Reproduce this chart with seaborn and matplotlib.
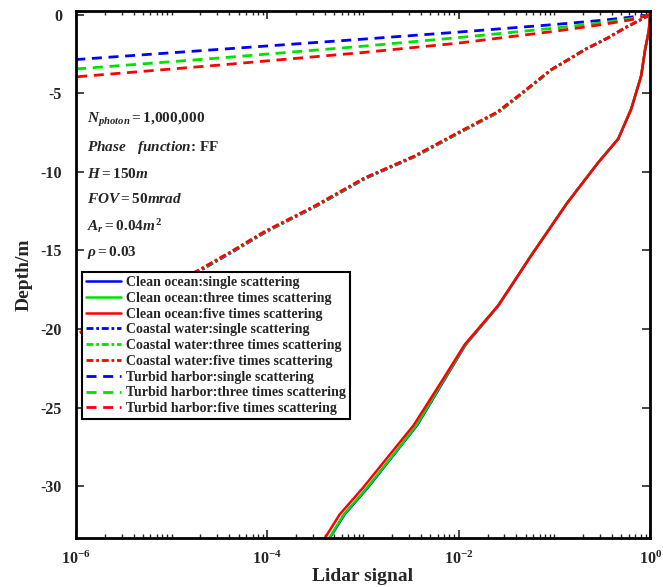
import numpy as np
import pandas as pd
import matplotlib
import matplotlib.pyplot as plt
import matplotlib.ticker as mticker
import seaborn as sns

# depth (m) and lidar signal
clean_depth = [0, -1.0, -2.2, -3.9, -6.0, -7.9, -9.4, -12.0, -15.3, -18.5, -21.0, -23.1, -26.1, -28.0, -30.1, -31.8, -33.3]
clean_single = [1.0, 0.97, 0.887, 0.805, 0.634, 0.464, 0.287, 0.135, 0.0575, 0.0261, 0.0118, 7.3e-3, 3.7e-3, 2.1e-3, 1.12e-3, 6.4e-4, 4.5e-4]
clean_three = [1.0, 0.97, 0.887, 0.805, 0.634, 0.464, 0.287, 0.135, 0.0572, 0.0260, 0.0117, 7.2e-3, 3.65e-3, 2.08e-3, 1.1e-3, 6.3e-4, 4.45e-4]
clean_five = [1.0, 0.97, 0.887, 0.805, 0.634, 0.464, 0.287, 0.135, 0.0575, 0.0258, 0.0115, 7.0e-3, 3.4e-3, 1.9e-3, 1.0e-3, 5.7e-4, 4.0e-4]

coastal_depth = [0, -0.3, -0.82, -1.46, -2.2, -2.85, -3.5, -5.2, -6.2, -7.3, -9.0, -10.4, -12.2, -13.8, -15.1, -16.3, -18.4, -20.5]
coastal_single = [1.0, 0.805, 0.55, 0.365, 0.21, 0.14, 0.093, 0.042, 0.026, 0.0118, 3.56e-3, 1.07e-3, 3.2e-4, 9.8e-5, 4.3e-5, 1.96e-5, 4.6e-6, 9e-7]
coastal_three = [1.0, 0.805, 0.55, 0.365, 0.21, 0.14, 0.093, 0.042, 0.026, 0.0117, 3.5e-3, 1.05e-3, 3.15e-4, 9.6e-5, 4.2e-5, 1.9e-5, 4.5e-6, 9e-7]
coastal_five = [1.0, 0.805, 0.55, 0.365, 0.21, 0.14, 0.092, 0.041, 0.025, 0.0113, 3.4e-3, 1.02e-3, 3.05e-4, 9.3e-5, 4.1e-5, 1.85e-5, 4.4e-6, 9e-7]

turbid_depth_single = [0, -0.15, -0.35, -0.62, -1.1, -1.55, -2.2, -2.85]
turbid_depth_three = [0, -0.25, -0.5, -0.85, -1.45, -2.0, -2.75, -3.45]
turbid_depth_five = [0, -0.32, -0.62, -1.05, -1.8, -2.4, -3.2, -3.95]
turbid_signal = [1.0, 0.63, 0.316, 0.1, 0.01, 1e-3, 3.16e-5, 1e-6]

labels = ['Clean ocean:single scattering', 'Clean ocean:three times scattering',
          'Clean ocean:five times scattering', 'Coastal water:single scattering',
          'Coastal water:three times scattering', 'Coastal water:five times scattering',
          'Turbid harbor:single scattering', 'Turbid harbor:three times scattering',
          'Turbid harbor:five times scattering']

series = [
    (clean_single, clean_depth), (clean_three, clean_depth), (clean_five, clean_depth),
    (coastal_single, coastal_depth), (coastal_three, coastal_depth), (coastal_five, coastal_depth),
    (turbid_signal, turbid_depth_single), (turbid_signal, turbid_depth_three), (turbid_signal, turbid_depth_five),
]

colors = ['#0000ff', '#00e000', '#ff0000'] * 3
styles = ['-'] * 3 + [(0, (2.5, 1, 1, 1))] * 3 + [(0, (3.6, 2.4))] * 3
widths = [1.8] * 3 + [2.0] * 3 + [2.0] * 3

sns.set_style('ticks')
plt.rcParams['font.family'] = ['Liberation Serif', 'DejaVu Serif']
plt.rcParams['font.weight'] = 'bold'
plt.rcParams['axes.unicode_minus'] = False
plt.rcParams['mathtext.fontset'] = 'custom'
plt.rcParams['mathtext.rm'] = 'Liberation Serif:bold'
plt.rcParams['mathtext.bf'] = 'Liberation Serif:bold'
plt.rcParams['mathtext.it'] = 'Liberation Serif:italic:bold'

fig = plt.figure(figsize=(6.63, 5.87), dpi=100)
ax = fig.add_axes([0.1146, 0.0835, 0.866, 0.898])

for (xs, ys), lab, c, ls, lw in zip(series, labels, colors, styles, widths):
    df = pd.DataFrame({'signal': xs, 'depth': ys})
    sns.lineplot(data=df, x='signal', y='depth', sort=False, estimator=None,
                 color=c, linestyle=ls, linewidth=lw, label=lab, ax=ax)

ax.set_xscale('log')
ax.set_xlim(1e-6, 1.0)
ax.set_ylim(-33.3, 0.25)
ax.xaxis.set_major_locator(mticker.FixedLocator([1e-6, 1e-4, 1e-2, 1e0]))
ax.xaxis.set_minor_locator(mticker.LogLocator(base=10, subs=np.arange(1, 10), numticks=50))
ax.xaxis.set_minor_formatter(mticker.NullFormatter())
ax.set_yticks([0, -5, -10, -15, -20, -25, -30])
ax.tick_params(which='both', direction='in', top=True, right=True, labelsize=11.5)
ax.tick_params(which='major', length=6, width=1.2)
ax.tick_params(which='minor', length=3, width=1)
ax.tick_params(axis='y', pad=10)
ax.tick_params(axis='x', pad=9)
for sp in ax.spines.values():
    sp.set_linewidth(2)
    sp.set_color('black')

ax.set_xlabel('Lidar signal', fontsize=14, fontweight='bold', labelpad=0)
ax.set_ylabel('Depth/m', fontsize=14, fontweight='bold', labelpad=6)

notes = [r'$N_{photon}=1{,}000{,}000$', r'$Phase\quad function$: FF', r'$H=150m$',
         r'$FOV=50mrad$', r'$A_r=0.04m^2$', r'$\rho=0.03$']
note_y = [0.793, 0.74, 0.691, 0.643, 0.592, 0.541]
for t, y in zip(notes, note_y):
    ax.text(0.02, y, t, transform=ax.transAxes, fontsize=11, fontweight='bold', va='center', ha='left')

leg = ax.legend(loc='upper left', bbox_to_anchor=(0.0105, 0.505), borderaxespad=0,
                fontsize=10, handlelength=2.5, labelspacing=0.2, fancybox=False,
                framealpha=1, edgecolor='black', borderpad=0.3, handletextpad=0.4)
leg.get_frame().set_linewidth(1.5)

fig.savefig('out.png', dpi=100)
